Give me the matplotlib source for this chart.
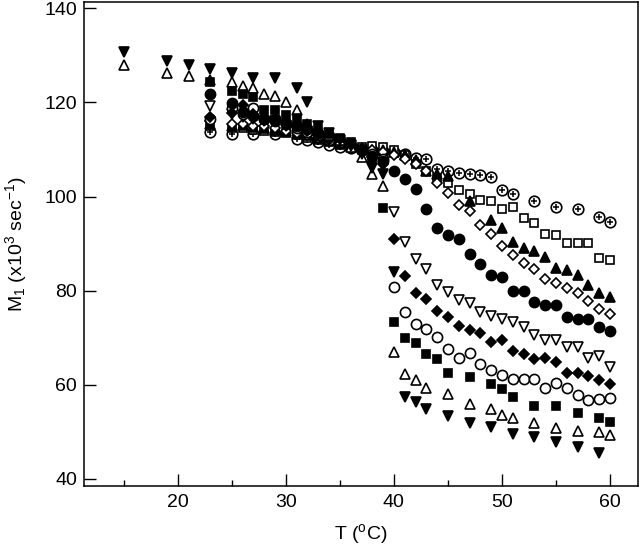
import matplotlib
matplotlib.use("Agg")
import matplotlib.pyplot as plt
from matplotlib.ticker import MultipleLocator

plt.rcParams['font.family'] = ['Liberation Sans', 'DejaVu Sans']
plt.rcParams['mathtext.fontset'] = 'custom'
plt.rcParams['mathtext.rm'] = 'Liberation Sans'
plt.rcParams['mathtext.it'] = 'Liberation Sans:italic'
plt.rcParams['mathtext.default'] = 'regular'

# ---------------- data (T in degC, M1 in 1e3 s^-1) ----------------
cluster_T = [23, 25, 26, 27, 28, 29, 30, 31, 32, 33, 34, 35, 36, 37, 38, 39]
hi_T = list(range(40, 61))

# filled down triangle
tdn_T = [15, 19, 21, 23, 25, 27, 29, 31, 32, 33, 34, 35, 36, 37, 38, 39, 40, 41, 42, 43, 45, 47, 49, 51, 53, 55, 57, 59]
tdn_M = [130.7, 128.9, 128.0, 127.1, 126.3, 125.1, 125.1, 123.0, 120.0, 115.0, 113.5, 112.0, 110.8, 109.0, 106.0, 104.8,
         84.0, 57.5, 56.3, 54.9, 53.4, 51.9, 51.0, 49.6, 48.9, 47.9, 46.7, 45.6]

# open up triangle
tuo_T = [15, 19, 21, 23, 25, 26, 27, 28, 29, 30, 31, 32, 33, 34, 35, 36, 37, 38, 39, 40, 41, 42, 43, 45, 47, 49, 50, 51, 53, 55, 57, 59, 60]
tuo_M = [127.9, 126.3, 125.7, 124.8, 124.3, 123.6, 123.1, 121.9, 121.4, 120.1, 118.4, 115.5, 114.5, 113.0, 112.0, 110.5, 108.5, 104.8, 102.2,
         67.0, 62.4, 61.0, 59.4, 58.0, 56.0, 54.8, 53.6, 53.0, 51.8, 50.9, 50.2, 49.9, 49.4]

# filled square
sqf_T = [23, 25, 26, 27, 28, 29, 30, 31, 32, 33, 34, 35, 36, 37, 38, 39, 40, 41, 42, 43, 44, 45, 47, 49, 50, 51, 53, 55, 57, 59, 60]
sqf_M = [124.3, 122.4, 121.9, 121.2, 118.3, 118.3, 117.3, 116.6, 115.5, 114.4, 113.4, 112.5, 111.5, 109.8, 107.8, 97.6,
         73.4, 70.0, 68.9, 66.5, 65.5, 62.6, 61.6, 60.2, 59.2, 57.4, 55.5, 55.5, 54.0, 53.0, 52.0]

# filled circle
cif_T = cluster_T + hi_T
cif_M = [121.8, 119.9, 118.0, 117.2, 116.5, 116.0, 115.5, 115.0, 114.3, 113.5, 112.8, 112.0, 111.0, 110.0, 108.7, 107.5,
         105.5, 103.8, 101.6, 97.4, 93.4, 91.9, 90.9, 87.8, 85.7, 83.4, 83.0, 80.0, 80.0, 77.5, 77.0, 77.0, 74.5, 74.0, 73.9, 72.2, 71.5]

# filled diamond
dif_T = cluster_T + hi_T
dif_M = [117.0, 117.8, 119.4, 117.5, 117.0, 116.5, 116.0, 115.0, 114.0, 113.0, 112.0, 111.5, 110.5, 109.5, 108.5, 107.0,
         91.0, 83.2, 79.6, 78.3, 75.7, 74.5, 72.5, 71.6, 71.0, 69.1, 69.5, 67.1, 66.5, 65.5, 65.8, 64.8, 62.6, 62.6, 61.8, 61.0, 60.1]

# open circle
cio_T = cluster_T + hi_T
cio_M = [116.5, 118.9, 117.5, 118.9, 116.5, 116.5, 115.5, 114.5, 113.8, 113.0, 112.0, 111.5, 110.5, 109.8, 109.0, 108.0,
         80.8, 75.5, 72.9, 71.9, 70.2, 67.7, 65.8, 66.7, 64.5, 63.2, 62.1, 61.3, 61.2, 61.3, 59.4, 60.3, 59.3, 57.8, 56.8, 57.0, 57.2]

# open down triangle
tdo_T = cluster_T + hi_T
tdo_M = [119.2, 117.5, 117.0, 116.5, 116.0, 116.0, 115.0, 114.5, 114.0, 113.0, 112.5, 111.8, 111.0, 110.0, 108.5, 106.5,
         96.7, 90.3, 86.7, 84.6, 81.2, 79.7, 78.1, 77.4, 75.5, 74.6, 73.9, 73.4, 72.2, 70.6, 69.5, 69.5, 68.1, 68.1, 65.6, 66.1, 63.8]

# open diamond
dio_T = cluster_T + hi_T
dio_M = [116.0, 115.5, 115.5, 115.0, 115.0, 114.5, 114.0, 113.5, 113.0, 112.5, 111.8, 111.2, 110.6, 110.2, 109.8, 109.4,
         108.8, 108.0, 107.0, 105.5, 102.8, 100.8, 98.3, 97.0, 93.9, 92.0, 89.5, 87.5, 85.8, 84.6, 82.5, 81.6, 80.6, 79.5, 77.8, 76.2, 75.0]

# filled up triangle
tuf_T = cluster_T + [40, 41, 42, 43, 44, 45, 47, 49, 50, 51, 52, 53, 54, 55, 56, 57, 58, 59, 60]
tuf_M = [115.5, 115.0, 115.2, 114.8, 114.5, 114.2, 114.0, 113.5, 113.0, 112.5, 112.0, 111.4, 110.8, 110.4, 110.0, 109.8,
         109.5, 108.9, 107.8, 105.5, 104.8, 104.4, 99.0, 95.1, 93.4, 90.4, 89.0, 88.5, 87.1, 84.8, 84.5, 83.3, 81.3, 79.6, 78.6]

# open square
sqo_T = cluster_T + hi_T
sqo_M = [115.0, 114.5, 114.5, 114.2, 114.0, 113.8, 113.5, 113.0, 112.5, 112.0, 111.5, 111.0, 110.8, 110.5, 110.8, 110.6,
         109.8, 108.8, 107.0, 105.5, 104.0, 102.8, 101.5, 100.5, 99.2, 99.0, 97.3, 97.7, 95.5, 94.4, 92.1, 91.9, 90.1, 90.1, 90.1, 86.9, 86.6]

# circled plus
cpl_T = [23, 25, 27, 29, 31, 32, 33, 34, 35, 36, 37, 38, 39, 40, 41, 42, 43, 44, 45, 46, 47, 48, 49, 50, 51, 53, 55, 57, 59, 60]
cpl_M = [113.8, 113.4, 113.3, 113.3, 112.3, 112.0, 111.5, 110.9, 110.6, 110.3, 110.0, 109.9, 109.7,
         109.5, 109.0, 108.3, 107.9, 105.8, 105.5, 105.0, 104.8, 104.5, 104.2, 101.4, 100.5, 99.0, 97.8, 97.3, 95.7, 94.6]

x_ticks = [20, 30, 40, 50, 60]
y_ticks = [40, 60, 80, 100, 120, 140]

# ---------------- figure ----------------
fig = plt.figure(figsize=(6.40, 5.51), dpi=100)
ax = fig.add_axes([0.131, 0.118, 0.866, 0.878])

K = 'black'
W = 'white'
mew = 1.2

def pts(T, M, marker, ms, filled, z):
    ax.plot(T, M, linestyle='none', marker=marker, markersize=ms,
            markerfacecolor=K if filled else W, markeredgecolor=K,
            markeredgewidth=mew, zorder=z)

# circled plus
ax.plot(cpl_T, cpl_M, linestyle='none', marker='o', markersize=7.6,
        markerfacecolor=W, markeredgecolor=K, markeredgewidth=mew, zorder=2)
ax.plot(cpl_T, cpl_M, linestyle='none', marker='+', markersize=4.6,
        markeredgecolor=K, markeredgewidth=1.1, zorder=2.1)
pts(sqo_T, sqo_M, 's', 6.4, False, 3)
pts(tuf_T, tuf_M, '^', 7.8, True, 4)
pts(dio_T, dio_M, 'D', 5.0, False, 5)
pts(tdo_T, tdo_M, 'v', 7.8, False, 6)
pts(cio_T, cio_M, 'o', 7.3, False, 7)
pts(dif_T, dif_M, 'D', 5.0, True, 8)
pts(cif_T, cif_M, 'o', 7.3, True, 9)
pts(tuo_T, tuo_M, '^', 7.8, False, 10)
pts(sqf_T, sqf_M, 's', 6.4, True, 11)
pts(tdn_T, tdn_M, 'v', 7.8, True, 12)

ax.set_xlim(11.3, 62.6)
ax.set_ylim(38.5, 141.3)
ax.set_xticks(x_ticks)
ax.set_yticks(y_ticks)
ax.xaxis.set_minor_locator(MultipleLocator(5))

ax.tick_params(axis='both', which='major', direction='in', length=8.5, width=1.0,
               labelsize=14, pad=6)
ax.tick_params(axis='x', which='minor', direction='in', length=4.3, width=1.0)
ax.tick_params(axis='y', which='major', pad=5)
ax.tick_params(top=False, right=False)
for s in ax.spines.values():
    s.set_linewidth(1.1)

ax.set_xlabel('T ($^o$C)', fontsize=14)
ax.set_ylabel('M$_1$ (x10$^3$ sec$^{-1}$)', fontsize=14)
ax.xaxis.set_label_coords(0.5, -0.074)
ax.yaxis.set_label_coords(-0.099, 0.5)

fig.savefig('out.png', dpi=100)
